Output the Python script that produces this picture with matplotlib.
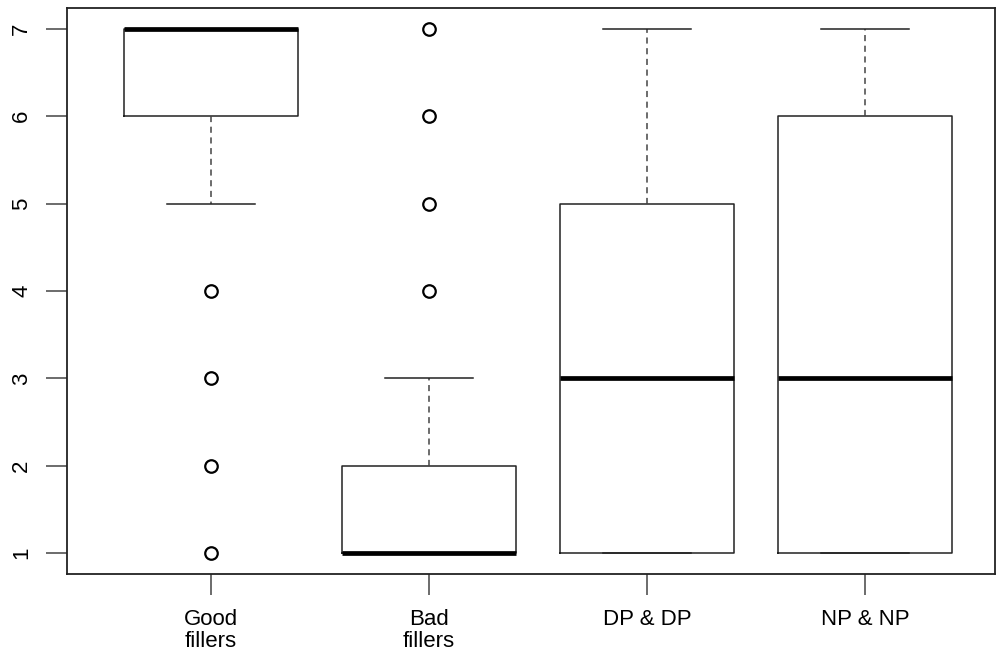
import matplotlib
matplotlib.use("Agg")
import matplotlib.pyplot as plt

plt.rcParams['font.family'] = ['Liberation Sans', 'DejaVu Sans']

labels = ["Good\nfillers", "Bad\nfillers", "DP & DP", "NP & NP"]
whislo = [5, 1, 1, 1]
q1 = [6, 1, 1, 1]
med = [7, 1, 3, 3]
q3 = [7, 2, 5, 6]
whishi = [7, 3, 7, 7]
fliers = [[4, 3, 2, 1], [4, 5, 6, 7], [], []]

stats = []
for i in range(len(labels)):
    stats.append({
        "label": labels[i], "whislo": whislo[i], "q1": q1[i], "med": med[i],
        "q3": q3[i], "whishi": whishi[i], "fliers": fliers[i],
    })

fig = plt.figure(figsize=(9.97, 6.52), dpi=100)
ax = fig.add_axes([67 / 997, 1 - 574 / 652, 928 / 997, 566 / 652])

ax.bxp(stats, positions=[1, 2, 3, 4], widths=0.8,
       boxprops=dict(color="#222222", linewidth=1.1),
       medianprops=dict(color="black", linewidth=3.4, solid_capstyle="butt"),
       whiskerprops=dict(color="#444444", linewidth=1.1, linestyle=(0, (4, 3))),
       capprops=dict(color="#222222", linewidth=1.1),
       capwidths=0.4,
       flierprops=dict(marker="o", markersize=9, markerfacecolor="white",
                       markeredgecolor="black", markeredgewidth=1.6, linestyle="none"))

ax.set_xlim(0.34, 4.596)
ax.set_ylim(0.76, 7.24)
ax.set_yticks([1, 2, 3, 4, 5, 6, 7])
ax.set_yticklabels(["1", "2", "3", "4", "5", "6", "7"], rotation=90, va="center")
ax.set_xticks([1, 2, 3, 4])
ax.set_xticklabels(labels, linespacing=1.1)
ax.tick_params(axis="both", direction="out", length=15, width=1.1, color="#444444",
               labelsize=16)
ax.tick_params(axis="y", pad=10)
ax.tick_params(axis="x", pad=10)
for s in ax.spines.values():
    s.set_linewidth(1.3)
    s.set_color("#222222")

fig.savefig("out.png", dpi=100)
